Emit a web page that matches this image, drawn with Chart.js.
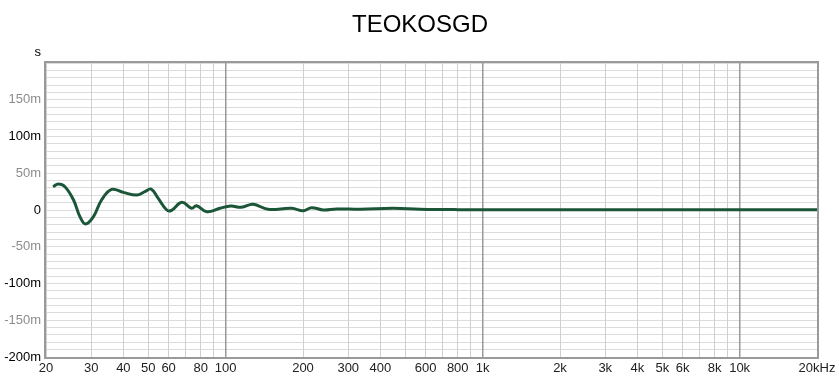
<!DOCTYPE html>
<html>
<head>
<meta charset="utf-8">
<script src="https://cdn.jsdelivr.net/npm/chart.js@4/dist/chart.umd.min.js"></script>
<style>
  body { margin: 0; background: #fff; }
  #wrap { width: 839px; height: 383px; position: relative; }
</style>
</head>
<body>
<div id="wrap"><canvas id="gd_chart"></canvas></div>
<script>
// group delay, frequency in Hz, delay in ms
const freqs = [21.3, 22.3, 23.7, 25.6, 27.1, 28.5, 30.6, 32.9, 36.0, 40.0, 45.1, 48.5, 51.3, 54.5, 59.0, 61.6, 67.5, 73.8, 77, 84.4, 95, 104.6, 115.2, 128, 146, 180.8, 200.5, 216, 240, 270, 335, 450, 570, 800, 1500, 3000, 6000, 12000, 20000];
const delays = [31.7, 35.4, 31.7, 13.6, -9, -19, -9, 13.6, 28, 24, 20.4, 25, 28.5, 16.5, 0, -0.5, 10.5, 2.3, 5.9, -2.3, 2.3, 5.4, 3.7, 7.7, 1, 2.3, -1, 3.2, 0, 1.4, 1, 2.3, 1, 0.5, 0.5, 0.5, 0.5, 0.5, 0.5];

const grid_freqs = [20, 30, 40, 50, 60, 70, 80, 90, 100, 200, 300, 400, 500, 600, 700, 800, 900, 1000, 2000, 3000, 4000, 5000, 6000, 7000, 8000, 9000, 10000, 20000];
const labeled_freqs = {20: '20', 30: '30', 40: '40', 50: '50', 60: '60', 80: '80', 100: '100', 200: '200', 300: '300', 400: '400', 600: '600', 800: '800', 1000: '1k', 2000: '2k', 3000: '3k', 4000: '4k', 5000: '5k', 6000: '6k', 8000: '8k', 10000: '10k', 20000: '20kHz'};

const chart_title = 'TEOKOSGD';
const y_unit = 's';

const points = [];
freqs.forEach(function (f, i) {
    points.push({x: f, y: delays[i]});
});

const frame_plugin = {
    id: 'frame',
    afterDraw(chart) {
        const {ctx, chartArea} = chart;
        ctx.save();
        ctx.strokeStyle = '#9a9a9a';
        ctx.lineWidth = 2;
        ctx.strokeRect(chartArea.left - 1, chartArea.top - 1, chartArea.right - chartArea.left + 2, chartArea.bottom - chartArea.top + 2);
        ctx.fillStyle = '#000';
        ctx.font = '13px "Liberation Sans", Arial, sans-serif';
        ctx.textAlign = 'right';
        ctx.textBaseline = 'middle';
        ctx.fillText(y_unit, 41, 52);
        ctx.font = '24px "Liberation Sans", Arial, sans-serif';
        ctx.textAlign = 'center';
        ctx.fillText(chart_title, 420, 25);
        ctx.restore();
    }
};

let chart = new Chart(document.getElementById('gd_chart'), {
    type: 'line',
    data: {
        datasets: [{
            data: points,
            borderColor: '#1b5638',
            borderWidth: 3,
            pointRadius: 0,
            tension: 0.4,
            fill: false
        }]
    },
    options: {
        responsive: true,
        maintainAspectRatio: false,
        animation: false,
        layout: {
            padding: {top: 63, left: 0, right: 22, bottom: 0}
        },
        plugins: {
            legend: {display: false},
            title: {display: false},
            tooltip: {enabled: false}
        },
        scales: {
            x: {
                type: 'logarithmic',
                min: 20,
                max: 20000,
                afterBuildTicks: function (scale) {
                    scale.ticks = grid_freqs.map(function (v) { return {value: v}; });
                },
                afterFit: function (scale) {
                    scale.height = 26;
                    scale.paddingLeft = 0;
                    scale.paddingRight = 0;
                },
                border: {display: false},
                grid: {
                    drawTicks: false,
                    z: -1,
                    color: function (ctx) {
                        const v = ctx.tick ? ctx.tick.value : 0;
                        return (v === 100 || v === 1000 || v === 10000) ? '#999999' : '#cfcfcf';
                    },
                    lineWidth: function (ctx) {
                        const v = ctx.tick ? ctx.tick.value : 0;
                        return (v === 100 || v === 1000 || v === 10000) ? 1.5 : 1;
                    }
                },
                ticks: {
                    autoSkip: false,
                    maxRotation: 0,
                    padding: 4,
                    color: '#222',
                    font: {family: '"Liberation Sans", Arial, sans-serif', size: 13},
                    callback: function (value) {
                        return labeled_freqs[value] || '';
                    }
                }
            },
            y: {
                min: -200,
                max: 200,
                afterFit: function (scale) {
                    scale.width = 46;
                },
                border: {display: false},
                grid: {
                    drawTicks: false,
                    z: -2,
                    color: '#dcdcdc'
                },
                ticks: {
                    stepSize: 10,
                    autoSkip: false,
                    padding: 5,
                    color: function (ctx) {
                        return ctx.tick.value % 100 === 0 ? '#000' : '#8c8c8c';
                    },
                    font: {family: '"Liberation Sans", Arial, sans-serif', size: 13},
                    callback: function (value) {
                        if (value % 50 !== 0 || value === 200) return '';
                        return value === 0 ? '0' : value + 'm';
                    }
                }
            }
        }
    },
    plugins: [frame_plugin]
});
</script>
</body>
</html>
